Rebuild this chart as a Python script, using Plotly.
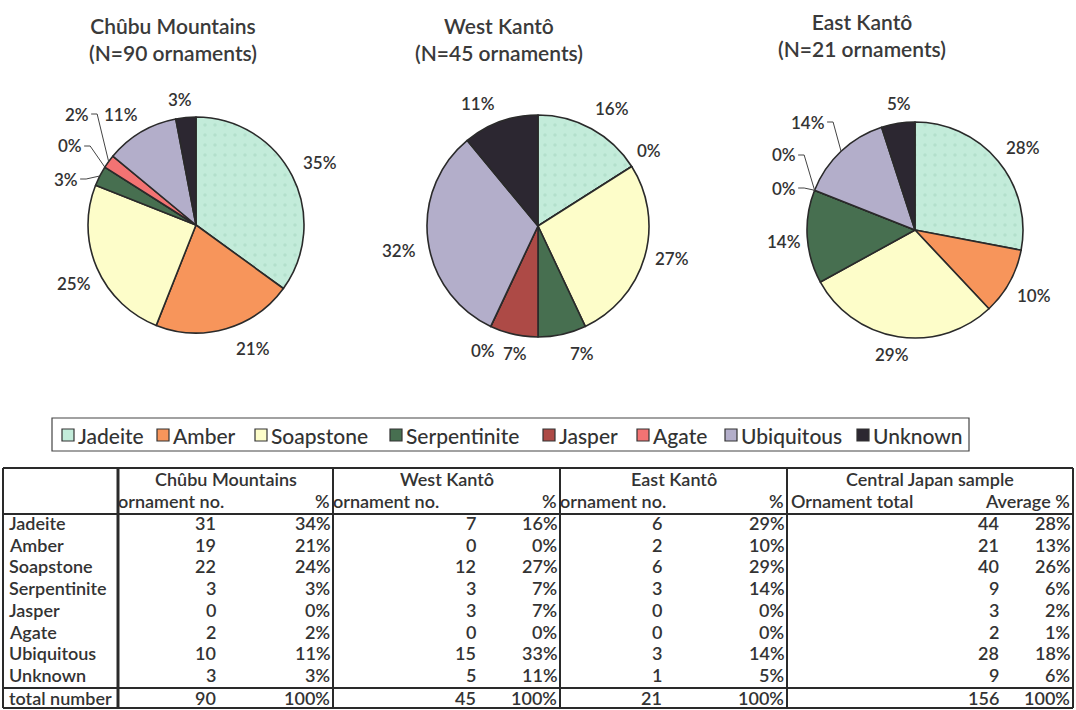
import plotly.graph_objects as go
import math

W, H = 1076, 710

# ---------------- data ----------------
materials = ["Jadeite", "Amber", "Soapstone", "Serpentinite", "Jasper", "Agate", "Ubiquitous", "Unknown"]

# percentages printed on the three pie charts
chubu_pie = [35, 21, 25, 3, 0, 2, 11, 3]
west_pie = [16, 0, 27, 7, 7, 0, 32, 11]
east_pie = [28, 10, 29, 14, 0, 0, 14, 5]

pie_titles = ["Chûbu Mountains<br>(N=90 ornaments)",
              "West Kantô<br>(N=45 ornaments)",
              "East Kantô<br>(N=21 ornaments)"]

# table values
chubu_no = [31, 19, 22, 3, 0, 2, 10, 3]
chubu_pct = [34, 21, 24, 3, 0, 2, 11, 3]
west_no = [7, 0, 12, 3, 3, 0, 15, 5]
west_pct = [16, 0, 27, 7, 7, 0, 33, 11]
east_no = [6, 2, 6, 3, 0, 0, 3, 1]
east_pct = [29, 10, 29, 14, 0, 0, 14, 5]
central_no = [44, 21, 40, 9, 3, 2, 28, 9]
central_pct = [28, 13, 26, 6, 2, 1, 18, 6]
table_groups = ["Chûbu Mountains", "West Kantô", "East Kantô", "Central Japan sample"]

# ---------------- style / layout ----------------
colors = ["#c3ecda", "#f7955b", "#fdfdc9", "#476f50", "#ad4a46", "#f37373", "#b3aeca", "#2c2731"]
FONT = "Lato"
TXT = "#333333"

# pie geometry (pixel centre x, centre y, radius)
pie_geom = [(196, 225, 108), (538, 226, 111), (915, 230, 108)]
# title centres (px)
title_pos = [(173, 39), (499, 39), (862, 35)]
# label centres (px) for each slice, and whether a leader line is drawn
label_pos = [
    [(320, 162), (253, 348), (74, 283), (66, 179), (70, 146), (77, 114), (121, 114), (180, 99)],
    [(612, 108), (649, 151), (672, 258), (582, 353), (515, 353), (483, 350), (399, 251), (478, 103)],
    [(1023, 148), (1034, 295), (892, 354), (784, 241), (784, 188), (784, 155), (808, 122), (899, 103)],
]
leaders = [
    [False, False, False, True, True, True, False, False],
    [False] * 8,
    [False, False, False, False, True, True, True, False],
]

def X(px):
    return px / W

def Y(py):
    return 1 - py / H

fig = go.Figure()
annotations = []
shapes = []

pies = [chubu_pie, west_pie, east_pie]
for k, vals in enumerate(pies):
    cx, cy, r = pie_geom[k]
    fig.add_trace(go.Pie(
        values=vals, labels=materials, sort=False, direction="clockwise", rotation=0,
        marker=dict(colors=colors, line=dict(color="#2a2a2a", width=1.6),
                    pattern=dict(shape=["."] + [""] * 7, fillmode="overlay",
                                 fgcolor="#a3d3bd", size=10, solidity=0.1)),
        textinfo="none", hoverinfo="label+percent", showlegend=False,
        domain=dict(x=[X(cx - r), X(cx + r)], y=[Y(cy + r), Y(cy - r)]),
    ))
    # title
    tx, ty = title_pos[k]
    annotations.append(dict(x=X(tx), y=Y(ty), xref="paper", yref="paper", text=pie_titles[k],
                            showarrow=False, xanchor="center", yanchor="middle",
                            font=dict(family=FONT, size=21, color="#3a3a3a", weight=600)))
    total = sum(vals)
    cum = 0
    for i, v in enumerate(vals):
        theta = math.radians((cum + v / 2) / total * 360)
        cum += v
        txt = f"{v}%"
        lx, ly = label_pos[k][i]
        annotations.append(dict(x=X(lx), y=Y(ly), xref="paper", yref="paper", text=txt,
                                showarrow=False, xanchor="center", yanchor="middle",
                                font=dict(family=FONT, size=17, color=TXT, weight=600)))
        if leaders[k][i]:
            ex = cx + r * math.sin(theta)
            ey = cy - r * math.cos(theta)
            hw = (0.58 * (len(txt) - 1) + 0.85) * 17 / 2
            sx = lx + hw + 2
            path = f"M {X(sx)},{Y(ly)} L {X(sx + 6)},{Y(ly)} L {X(ex)},{Y(ey)}"
            shapes.append(dict(type="path", xref="paper", yref="paper", path=path,
                               line=dict(color="#444444", width=1)))

# ---------------- legend (drawn manually) ----------------
legend_x = [62, 157, 255, 390, 543, 637, 725, 857]
legend_y = 435
shapes.append(dict(type="rect", xref="paper", yref="paper", x0=X(52), x1=X(969), y0=Y(418), y1=Y(451),
                   line=dict(color="#444444", width=1.2), fillcolor="rgba(0,0,0,0)"))
for i, m in enumerate(materials):
    sx = legend_x[i]
    shapes.append(dict(type="rect", xref="paper", yref="paper", x0=X(sx), x1=X(sx + 12),
                       y0=Y(legend_y + 6), y1=Y(legend_y - 6),
                       line=dict(color="#333333", width=1.2), fillcolor=colors[i]))
    annotations.append(dict(x=X(sx + 14), y=Y(legend_y), xref="paper", yref="paper", text=m,
                            showarrow=False, xanchor="left", yanchor="middle",
                            font=dict(family=FONT, size=21, color=TXT, weight=500)))

# ---------------- table ----------------
col_lines = [3, 118, 333, 560, 787, 1073]
t_top, t_head, t_tot, t_bot = 468, 514, 688, 708
row_y0, row_dy = 523, 21.7
num_right = [217, 477, 663, 1000]
pct_right = [331, 558, 785, 1071]
TF = dict(family=FONT, size=18, color=TXT, weight=600)
LW = 2

for y in [t_top, t_head, t_tot, t_bot]:
    shapes.append(dict(type="line", xref="paper", yref="paper", x0=X(col_lines[0]), x1=X(col_lines[-1]),
                       y0=Y(y), y1=Y(y), line=dict(color="#2a2a2a", width=LW)))
for i, x in enumerate(col_lines):
    shapes.append(dict(type="line", xref="paper", yref="paper", x0=X(x), x1=X(x),
                       y0=Y(t_top), y1=Y(t_bot), line=dict(color="#2a2a2a", width=3 if i == 1 else LW)))

def add_text(x, y, text, anchor):
    annotations.append(dict(x=X(x), y=Y(y), xref="paper", yref="paper", text=text, showarrow=False,
                            xanchor=anchor, yanchor="middle", font=TF, borderpad=0))

for g, name in enumerate(table_groups):
    x0, x1 = col_lines[g + 1], col_lines[g + 2]
    add_text((x0 + x1) / 2, 479, name, "center")
    if g < 3:
        add_text(x0 - 1, 501, "ornament no.", "left")
        add_text(pct_right[g], 501, "%", "right")
    else:
        add_text(x0 + 3, 501, "Ornament total", "left")
        add_text(pct_right[g], 501, "Average %", "right")

cols = [(chubu_no, chubu_pct), (west_no, west_pct), (east_no, east_pct), (central_no, central_pct)]
for i, m in enumerate(materials):
    y = row_y0 + i * row_dy
    add_text(8, y, m, "left")
    for g, (nos, pcts) in enumerate(cols):
        add_text(num_right[g], y, str(nos[i]), "right")
        add_text(pct_right[g], y, f"{pcts[i]}%", "right")

y_tot = 698
add_text(8, y_tot, "total number", "left")
for g, (nos, pcts) in enumerate(cols):
    add_text(num_right[g], y_tot, str(sum(nos)), "right")
    add_text(pct_right[g], y_tot, "100%", "right")

fig.update_layout(
    width=W, height=H, margin=dict(l=0, r=0, t=0, b=0),
    paper_bgcolor="white", plot_bgcolor="white",
    annotations=annotations, shapes=shapes,
    font=dict(family=FONT, color=TXT),
)

fig.write_html("out.html", config={"displayModeBar": False},
               post_script="document.body.style.margin='0px';document.body.style.overflow='hidden';")
